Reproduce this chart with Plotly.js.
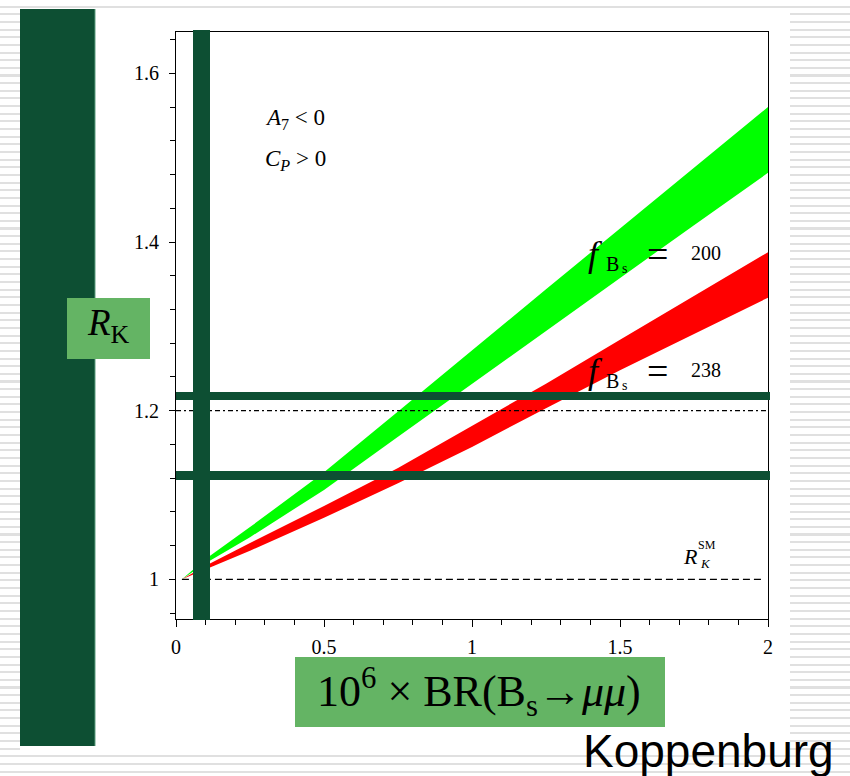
<!DOCTYPE html>
<html>
<head>
<meta charset="utf-8">
<script src="https://cdn.plot.ly/plotly-3.0.1.min.js"></script>
<style>
  html, body { margin:0; padding:0; }
  body {
    width:850px; height:776px; overflow:hidden; position:relative;
    background: repeating-linear-gradient(to bottom, #ffffff 0px, #ffffff 5.6px, #e0e0e0 5.6px, #e0e0e0 7.65px);
  }
  #white { position:absolute; left:20px; top:9px; width:770px; height:743px; background:#ffffff; }
  #plot { position:absolute; left:0; top:0; width:850px; height:776px; }
</style>
</head>
<body>
<div id="white"></div>
<div id="plot"></div>
<script>
// ---- data ----
const brValues      = [0.02, 0.1, 0.25, 0.5, 0.75, 1.0, 1.25, 1.5, 1.75, 2.0];
const green200Upper = [1.0, 1.024, 1.062, 1.127, 1.199, 1.272, 1.344, 1.416, 1.488, 1.560];
const green200Lower = [1.0, 1.019, 1.050, 1.106, 1.169, 1.232, 1.295, 1.358, 1.420, 1.482];
const red238Upper   = [1.0, 1.016, 1.043, 1.087, 1.132, 1.182, 1.232, 1.284, 1.336, 1.388];
const red238Lower   = [1.0, 1.012, 1.034, 1.073, 1.114, 1.157, 1.203, 1.248, 1.291, 1.334];
const smLineX = [0.02, 1.98];
const smLineY = [1.0, 1.0];
const refLineX = [0.0, 2.0];
const refLineY = [1.2, 1.2];
const xTickVals = [0, 0.5, 1, 1.5, 2];
const xTickText = ["0", "0.5", "1", "1.5", "2"];
const yTickVals = [1, 1.2, 1.4, 1.6];
const yTickText = ["1", "1.2", "1.4", "1.6"];

// ---- pixel helpers for decorations ----
const L = 176, R = 768, T = 32, B = 619;
const px = x => (x - L) / (R - L);
const py = y => (B - y) / (B - T);

const DARK = '#0d4f33';
const LIGHT = '#64b464';

const traces = [
  {x: brValues, y: green200Lower, mode: 'lines', line: {width: 0, color: '#00ff00'}, hoverinfo: 'skip', showlegend: false},
  {x: brValues, y: green200Upper, mode: 'lines', line: {width: 0, color: '#00ff00'}, fill: 'tonexty', fillcolor: '#00ff00', hoverinfo: 'skip', showlegend: false},
  {x: brValues, y: red238Lower, mode: 'lines', line: {width: 0, color: '#ff0000'}, hoverinfo: 'skip', showlegend: false},
  {x: brValues, y: red238Upper, mode: 'lines', line: {width: 0, color: '#ff0000'}, fill: 'tonexty', fillcolor: '#ff0000', hoverinfo: 'skip', showlegend: false},
  {x: smLineX, y: smLineY, mode: 'lines', line: {color: '#000', width: 1.4, dash: '7px,4px'}, hoverinfo: 'skip', showlegend: false},
  {x: refLineX, y: refLineY, mode: 'lines', line: {color: '#000', width: 1.2, dash: '5px,3px,2px,3px'}, hoverinfo: 'skip', showlegend: false}
];

function rect(x0, x1, y0, y1, color) {
  return {type: 'rect', xref: 'paper', yref: 'paper', x0: px(x0), x1: px(x1), y0: py(y1), y1: py(y0),
          fillcolor: color, line: {width: 0}, layer: 'above'};
}

const shapes = [
  rect(20, 95, 9, 746, DARK),
  {type: 'line', xref: 'paper', yref: 'paper', x0: px(95), x1: px(95), y0: py(746), y1: py(9), line: {color: '#5f9f80', width: 1}, layer: 'above'},
  rect(176, 770, 392, 400, DARK),
  rect(176, 770, 471, 480, DARK),
  rect(193, 210, 30, 620, DARK),
  rect(67, 150, 298, 359, LIGHT),
  rect(295, 665, 657, 727, LIGHT)
];

const serif = 'Liberation Serif, Times New Roman, serif';
function ann(text, x, y, size, opts) {
  return Object.assign({text: text, xref: 'paper', yref: 'paper', x: px(x), y: py(y), showarrow: false,
    xanchor: 'center', yanchor: 'middle', font: {family: serif, size: size, color: '#000'}}, opts || {});
}

const annotations = [
  ann('<i>A</i><sub>7</sub> &lt; 0', 263, 119, 23, {xanchor: 'left'}),
  ann('<i>C</i><sub><i>P</i></sub> &gt; 0', 263, 160, 23, {xanchor: 'left'}),
  // f_Bs = 200
  ann('<i>f</i>', 595, 254, 36),
  ann('B', 612, 264, 20),
  ann('s', 624, 268, 14),
  ann('=', 657, 254, 38),
  ann('200', 706, 253, 20),
  // f_Bs = 238
  ann('<i>f</i>', 595, 371, 36),
  ann('B', 612, 381, 20),
  ann('s', 624, 385, 14),
  ann('=', 657, 371, 38),
  ann('238', 706, 370, 20),
  // R_K^SM
  ann('<i>R</i>', 690, 556, 22),
  ann('SM', 707, 545, 12),
  ann('<i>K</i>', 705, 563, 13),
  // axis titles
  ann('<i>R</i><sub>K</sub>', 108, 326, 37),
  ann('10<sup>6</sup> × BR(B<sub>s</sub>→<i>μμ</i>)', 479, 692, 44),
  // credit
  ann('Koppenburg', 836, 751, 46, {xanchor: 'right', font: {family: 'Liberation Sans, Arial, sans-serif', size: 46, color: '#000'}})
];

const layout = {
  width: 850, height: 776,
  margin: {l: L, r: 850 - R, t: T, b: 776 - B, pad: 0},
  paper_bgcolor: 'rgba(0,0,0,0)',
  plot_bgcolor: '#ffffff',
  showlegend: false,
  xaxis: {
    range: [0, 2], tickvals: xTickVals, ticktext: xTickText,
    ticks: 'outside', ticklen: 7, tickwidth: 1, tickcolor: '#000',
    minor: {dtick: 0.1, tick0: 0, ticks: 'outside', ticklen: 5, tickcolor: '#000', tickwidth: 1},
    showline: true, linecolor: '#000', linewidth: 1, mirror: true,
    showgrid: false, zeroline: false, ticklabelstandoff: 3,
    tickfont: {family: serif, size: 20, color: '#000'}
  },
  yaxis: {
    range: [0.953, 1.649], tickvals: yTickVals, ticktext: yTickText,
    ticks: 'outside', ticklen: 6, tickwidth: 1, tickcolor: '#000',
    minor: {dtick: 0.04, tick0: 1, ticks: 'outside', ticklen: 5, tickcolor: '#000', tickwidth: 1},
    showline: true, linecolor: '#000', linewidth: 1, mirror: true,
    showgrid: false, zeroline: false, ticklabelstandoff: 6,
    tickfont: {family: serif, size: 20, color: '#000'}
  },
  shapes: shapes,
  annotations: annotations
};

Plotly.newPlot('plot', traces, layout, {displayModeBar: false, staticPlot: true});
</script>
</body>
</html>
